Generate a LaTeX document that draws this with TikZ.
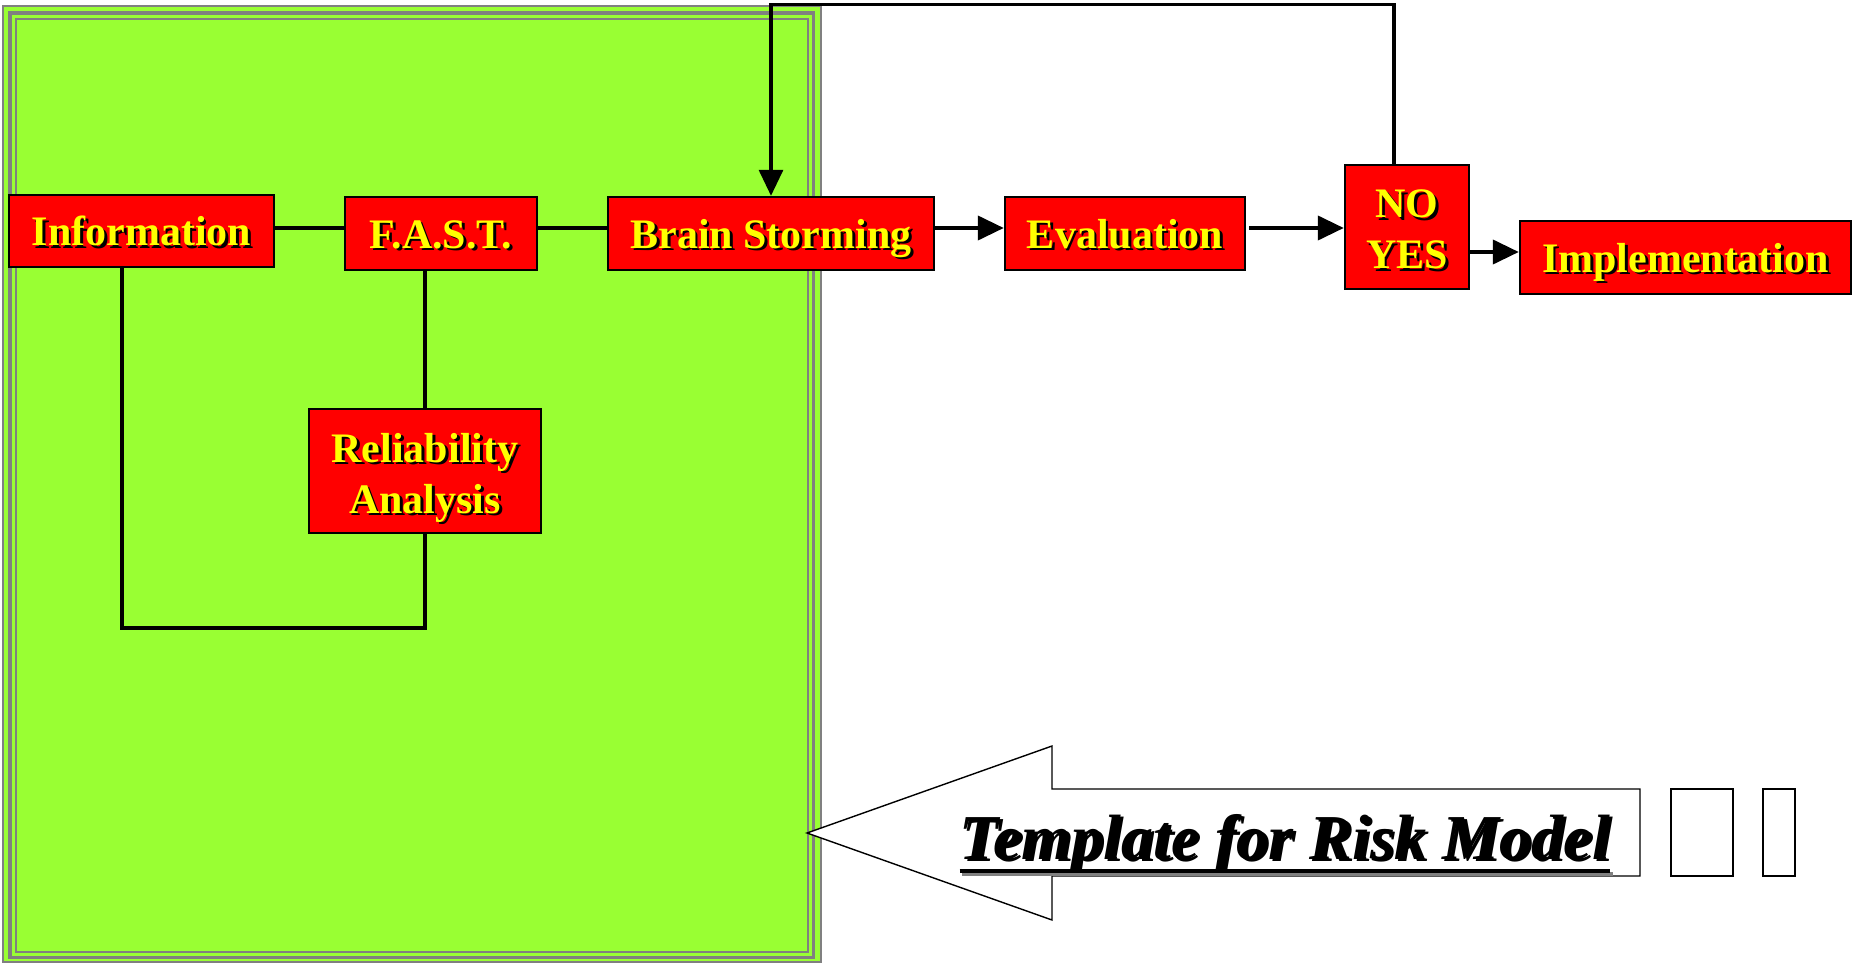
\documentclass[tikz,border=0pt]{standalone}
\usepackage{fontspec}
\setmainfont{Liberation Serif}
\usetikzlibrary{arrows.meta}
\definecolor{lime}{RGB}{153,255,51}
\definecolor{bxred}{RGB}{255,0,0}
\definecolor{bxyel}{RGB}{255,255,0}
\definecolor{pgray}{RGB}{128,128,128}
\newcommand\shd[1]{\leavevmode\rlap{\kern1.4pt\raisebox{-1.4pt}{\color{black}#1}}#1}
\begin{document}
\begin{tikzpicture}[x=0.5pt,y=-0.5pt,
  box/.style={draw=black, line width=1.2pt, fill=bxred, text=bxyel,
    font=\fontsize{21}{25.5}\selectfont\bfseries, inner sep=0pt, align=center},
  one/.style={text height=14.6pt, text depth=0pt},
  btxt/.style={text=bxyel, font=\fontsize{21}{25.5}\selectfont\bfseries, inner sep=0pt, align=center},
  conn/.style={line width=2pt},
  arr/.style={line width=2pt, -{Triangle[length=13pt,width=12pt]}},
  frame/.style={draw=pgray},
  plain/.style={draw=black, line width=0.7pt, fill=white}]
\useasboundingbox (0,0) rectangle (1852,963);
% green panel
\fill[lime] (2,5) rectangle (822,963);
\draw[frame, line width=1pt] (3,6) rectangle (821,962);
\draw[frame, line width=1.75pt] (10,13) rectangle (813.5,957.5);
\draw[frame, line width=1pt] (16,19) rectangle (808,951.5);
% boxes
\node[box, one, minimum width=132.5pt, minimum height=36pt] (info) at (141.5,231) {\shd{Information}};
\node[box, one, minimum width=96pt, minimum height=36.5pt] (fast) at (441,233.5) {\shd{F.A.S.T.}};
\node[box, one, minimum width=163pt, minimum height=36.5pt] (brain) at (771,233.5) {\shd{Brain Storming}};
\node[box, one, minimum width=120pt, minimum height=36.5pt] (eval) at (1125,233.5) {\shd{Evaluation}};
\node[box, minimum width=62pt, minimum height=62pt] (noyes) at (1407,227) {};
\node[btxt] (noyest) at ([yshift=-2pt]noyes.center) {\shd{NO}\\\shd{YES}};
\node[box, one, minimum width=165.5pt, minimum height=36.5pt] (impl) at (1685.5,257.5) {\shd{Implementation}};
\node[box, minimum width=116pt, minimum height=62pt] (rel) at (425,471) {};
\node[btxt] (relt) at ([yshift=-4pt]rel.center) {\shd{Reliability}\\\shd{Analysis}};
% connectors
\draw[conn] ([yshift=1.5pt]info.east) -- ([yshift=1.5pt]info.east -| fast.west);
\draw[conn] ([yshift=2.75pt]fast.east) -- ([yshift=2.75pt]fast.east -| brain.west);
\draw[conn] (rel.north) -- (rel.north |- fast.south);
\draw[conn] ([xshift=-10pt]info.south) -- ++(0,360) -| (rel.south);
\draw[arr] ([yshift=2.75pt]brain.east) -- ([yshift=2.75pt]brain.east -| eval.west);
\draw[arr, shorten <=1.5pt] ([yshift=2.75pt]eval.east) -- ([yshift=2.75pt]eval.east -| noyes.west);
\draw[arr] ([yshift=2.75pt]impl.west -| noyes.east) -- ([yshift=2.75pt]impl.west);
\draw[line width=1.6pt, -{Triangle[length=13pt,width=12pt]}] ([xshift=-6.5pt]noyes.north) -- ++(0,-159) -| (brain.north);
% big arrow
\draw[plain] (807,833) -- (1052,746) -- (1052,789) -- (1640,789) -- (1640,876) -- (1052,876) -- (1052,920) -- cycle;
\node[anchor=base, inner sep=0pt, font=\fontsize{32}{38}\selectfont\bfseries\itshape] (title) at (1285,859) {\shd{Template for Risk Model}};
\draw[line width=2pt, gray] ([xshift=1.4pt,yshift=-7.4pt]title.base west) -- ([xshift=1.4pt,yshift=-7.4pt]title.base east);
\draw[line width=2pt] ([yshift=-6pt]title.base west) -- ([yshift=-6pt]title.base east);
\node[plain, minimum width=31pt, minimum height=43.5pt, inner sep=0pt] (sq1) at (1702,832.5) {};
\node[plain, minimum width=16pt, minimum height=43.5pt, inner sep=0pt] (sq2) at (1779,832.5) {};
\end{tikzpicture}
\end{document}
